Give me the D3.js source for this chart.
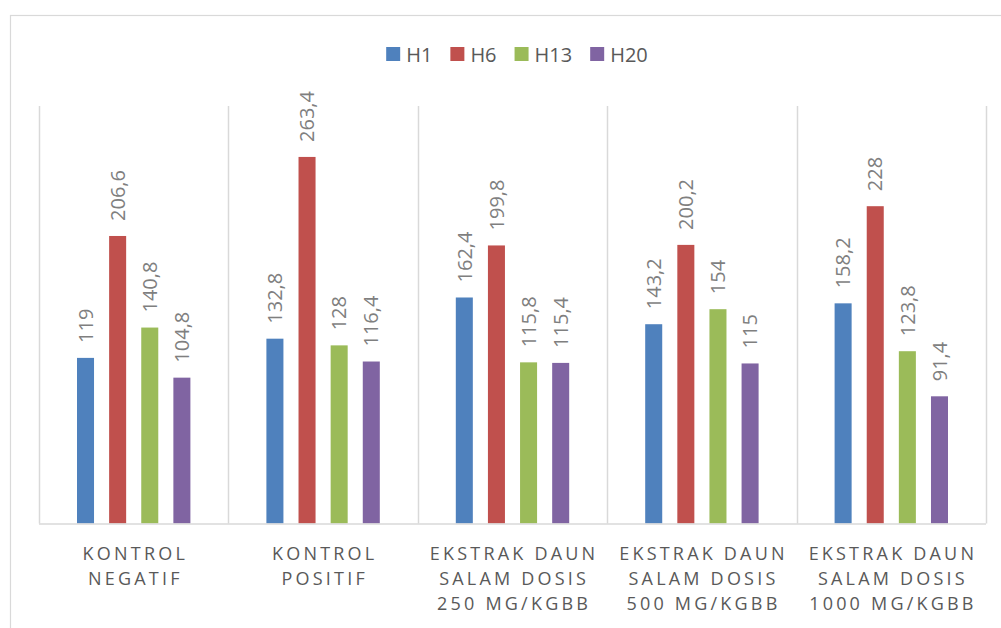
<!DOCTYPE html>
<html>
<head>
<meta charset="utf-8">
<script src="https://cdn.jsdelivr.net/npm/d3@7"></script>
<style>
  body { margin: 0; background: #fff; }
  text { font-family: "Open Sans", "Liberation Sans", sans-serif; fill: #595959; }
</style>
</head>
<body>
<div id="chart"></div>
<script>
// Data
var categories = [
  ["KONTROL", "NEGATIF"],
  ["KONTROL", "POSITIF"],
  ["EKSTRAK DAUN", "SALAM DOSIS", "250 MG/KGBB"],
  ["EKSTRAK DAUN", "SALAM DOSIS", "500 MG/KGBB"],
  ["EKSTRAK DAUN", "SALAM DOSIS", "1000 MG/KGBB"]
];
var seriesNames = ["H1", "H6", "H13", "H20"];
var h1 = [119, 132.8, 162.4, 143.2, 158.2];
var h6 = [206.6, 263.4, 199.8, 200.2, 228];
var h13 = [140.8, 128, 115.8, 154, 123.8];
var h20 = [104.8, 116.4, 115.4, 115, 91.4];
var colors = ["#4F81BD", "#C0504D", "#9BBB59", "#8064A2"];

var seriesValues = [h1, h6, h13, h20];

var W = 1001, H = 628;
var margin = { top: 106, left: 39, right: 15, bottom: 104.5 };
var width = W - margin.left - margin.right;
var height = H - margin.top - margin.bottom;

var svg = d3.select("#chart").append("svg")
  .attr("width", W)
  .attr("height", H);

// Outer chart border
svg.append("rect")
  .attr("x", 10.5).attr("y", 15.5)
  .attr("width", 1000).attr("height", 700)
  .attr("fill", "none")
  .attr("stroke", "#d9d9d9")
  .attr("stroke-width", 1.2);

var g = svg.append("g")
  .attr("transform", "translate(" + margin.left + "," + margin.top + ")");

var x0 = d3.scaleBand()
  .domain(d3.range(categories.length))
  .range([0, width])
  .paddingInner(0)
  .paddingOuter(0);

var x1 = d3.scaleBand()
  .domain(seriesNames)
  .range([38, x0.bandwidth() - 38])
  .paddingInner(0.47)
  .paddingOuter(0);

var y = d3.scaleLinear()
  .domain([0, 300])
  .range([height, 0]);

// Category separators
g.selectAll(".sep")
  .data(d3.range(categories.length + 1))
  .enter().append("line")
  .attr("x1", function(d) { return Math.round(d * x0.bandwidth()) + 0.5; })
  .attr("x2", function(d) { return Math.round(d * x0.bandwidth()) + 0.5; })
  .attr("y1", 0)
  .attr("y2", height)
  .attr("stroke", "#d9d9d9")
  .attr("stroke-width", 1.5);

// Bars
var groups = g.selectAll(".grp")
  .data(categories.map(function(c, i) { return i; }))
  .enter().append("g")
  .attr("transform", function(i) { return "translate(" + x0(i) + ",0)"; });

groups.selectAll("rect")
  .data(function(i) {
    return seriesNames.map(function(s, k) { return { s: s, k: k, v: seriesValues[k][i] }; });
  })
  .enter().append("rect")
  .attr("x", function(d) { return x1(d.s); })
  .attr("y", function(d) { return y(d.v); })
  .attr("width", x1.bandwidth())
  .attr("height", function(d) { return height - y(d.v); })
  .attr("fill", function(d) { return colors[d.k]; });

// Value labels, rotated
groups.selectAll(".lbl")
  .data(function(i) {
    return seriesNames.map(function(s, k) { return { s: s, k: k, v: seriesValues[k][i] }; });
  })
  .enter().append("text")
  .attr("transform", function(d) {
    var cx = x1(d.s) + x1.bandwidth() / 2;
    return "translate(" + cx + "," + (y(d.v) - 15) + ") rotate(-90)";
  })
  .attr("dy", "0.36em")
  .attr("text-anchor", "start")
  .style("font-size", "20px")
  .style("fill", "#7f7f7f")
  .text(function(d) { return String(d.v).replace(".", ","); });

// Baseline
g.append("line")
  .attr("x1", 0).attr("x2", width)
  .attr("y1", height + 0.5).attr("y2", height + 0.5)
  .attr("stroke", "#d9d9d9")
  .attr("stroke-width", 1.5);

// Category labels
groups.each(function(i) {
  var t = d3.select(this).append("text")
    .attr("text-anchor", "middle")
    .style("font-size", "18px")
    .style("letter-spacing", "3.2px");
  categories[i].forEach(function(line, j) {
    t.append("tspan")
      .attr("x", x0.bandwidth() / 2 + 1.6)
      .attr("y", height + 36 + j * 25)
      .text(line);
  });
});

// Legend
var legend = svg.append("g");
var lx = 0;
seriesNames.forEach(function(s, k) {
  var item = legend.append("g").attr("transform", "translate(" + lx + ",0)");
  item.append("rect")
    .attr("x", 0).attr("y", 47)
    .attr("width", 14).attr("height", 14)
    .attr("fill", colors[k]);
  var t = item.append("text")
    .attr("x", 20).attr("y", 61.5)
    .style("font-size", "20px")
    .text(s);
  lx += 20 + t.node().getComputedTextLength() + 18;
});
var legendWidth = lx - 18;
legend.attr("transform", "translate(" + (517 - legendWidth / 2) + ",0)");
</script>
</body>
</html>
